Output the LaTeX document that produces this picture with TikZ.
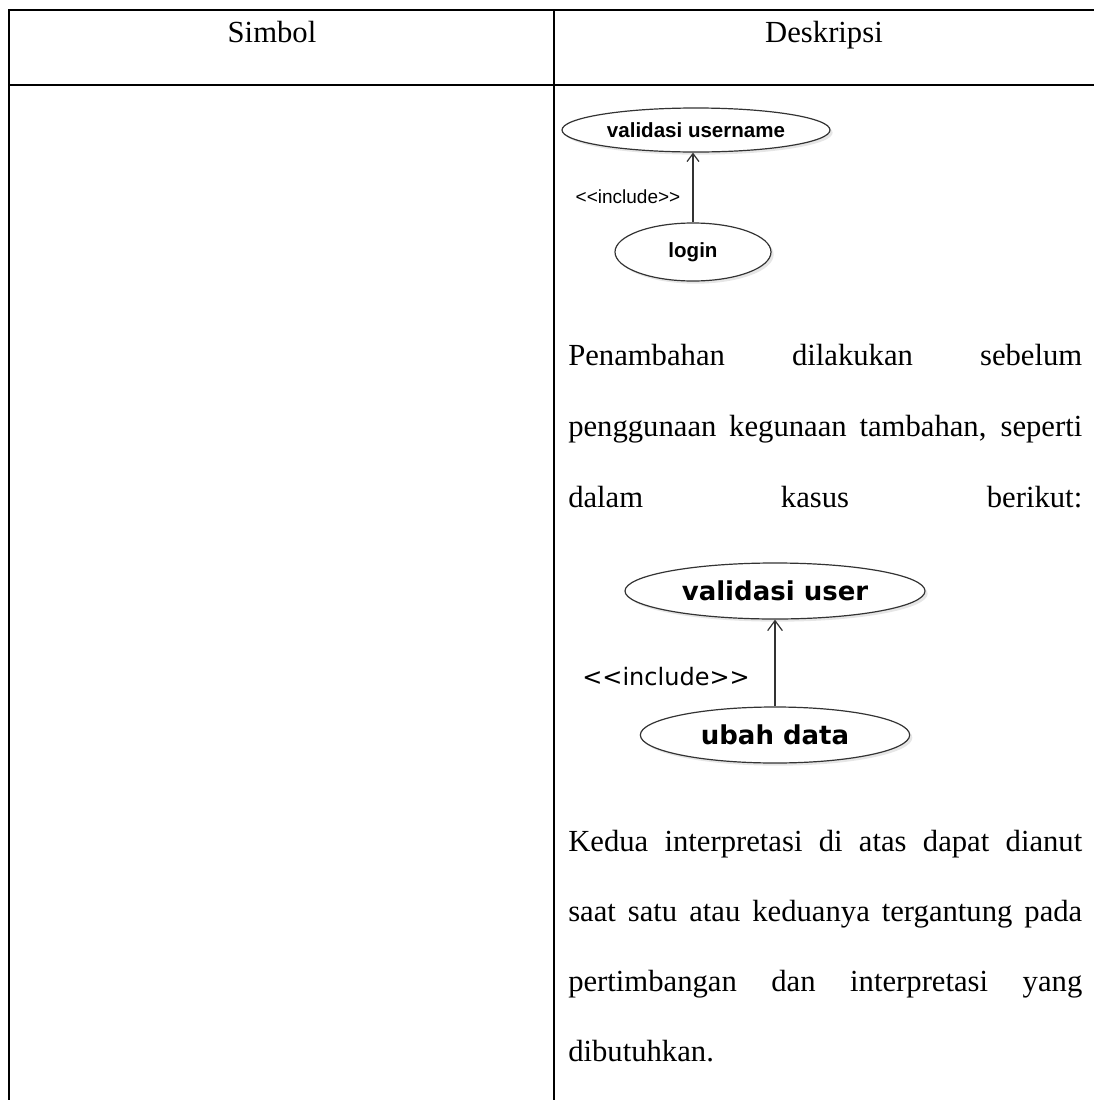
\documentclass[tikz,border=0pt]{standalone}
\usepackage{fontspec}
\setmainfont{Liberation Serif}
\newfontfamily\umlfont{Liberation Sans}
\newfontfamily\umlwide{DejaVu Sans}
\usetikzlibrary{arrows.meta,shadows,shapes.geometric}
\newcommand{\bodytext}{\fontsize{23}{28}\selectfont}
\newcommand{\jline}[1]{\makebox[385.5pt][s]{#1}}
\newcommand{\incl}{<\kern0pt<include>\kern0pt>}

\begin{document}
\begin{tikzpicture}[x=0.75pt, y=-0.75pt,
	rule/.style={line width=1.5pt},
	usecase/.style={ellipse, draw=black!80, line width=0.9pt, fill=white, inner sep=0pt,
		drop shadow={shadow xshift=2pt, shadow yshift=-2pt, opacity=0.2}},
	inc/.style={draw=black!80, line width=0.9pt, -{Straight Barb[length=6pt, width=9pt]}},
	cell/.style={anchor=base west, inner sep=0pt, font=\bodytext}]
	\useasboundingbox (0,0) rectangle (1094,1100);
	\draw[rule] (9,1100) -- (9,10) -- (1094,10);
	\draw[rule] (554,10) -- (554,1100);
	\draw[line width=1.2pt] (9,85) -- (1094,85);
	\node[font=\bodytext, anchor=base] (simbol) at (272,42) {Simbol};
	\node[font=\bodytext, anchor=base] (deskripsi) at (824,42) {Deskripsi};
	% contoh pertama
	\node[usecase, minimum width=201pt, minimum height=33pt, font=\umlfont\bfseries\fontsize{15.4}{18}\selectfont] (vuser) at (696,130) {validasi username};
	\node[usecase, minimum width=117pt, minimum height=43.5pt, font=\umlfont\bfseries\fontsize{15.4}{18}\selectfont] (login) at (693,252) {login};
	\draw[inc] (login.north) -- (login.north |- vuser.south);
	\node[font=\umlfont\fontsize{14.25}{17}\selectfont] (inc1) at (628,197) {\incl};
	\foreach \t [count=\i] in {Penambahan dilakukan sebelum, {penggunaan kegunaan tambahan, seperti}, dalam kasus berikut:}
		\node[cell] (pa\i) at (568,294+71*\i) {\jline{\t}};
	% contoh kedua
	\node[usecase, minimum width=225pt, minimum height=42pt, font=\umlwide\bfseries\fontsize{19.5}{22}\selectfont] (vdata) at (775,591) {validasi user};
	\node[usecase, minimum width=202pt, minimum height=42pt, font=\umlwide\bfseries\fontsize{19.5}{22}\selectfont] (ubah) at (775,735) {ubah data};
	\draw[inc, -{Straight Barb[length=7.5pt, width=11pt]}] (ubah.north) -- (vdata.south);
	\node[font=\umlwide\fontsize{18}{21}\selectfont] (inc2) at (666,677) {\incl};
	\foreach \t [count=\i] in {Kedua interpretasi di atas dapat dianut, saat satu atau keduanya tergantung pada, pertimbangan dan interpretasi yang}
		\node[cell] (pb\i) at (568,781+70*\i) {\jline{\t}};
	\node[cell] (pb4) at (568,1061) {dibutuhkan.};
\end{tikzpicture}
\end{document}
